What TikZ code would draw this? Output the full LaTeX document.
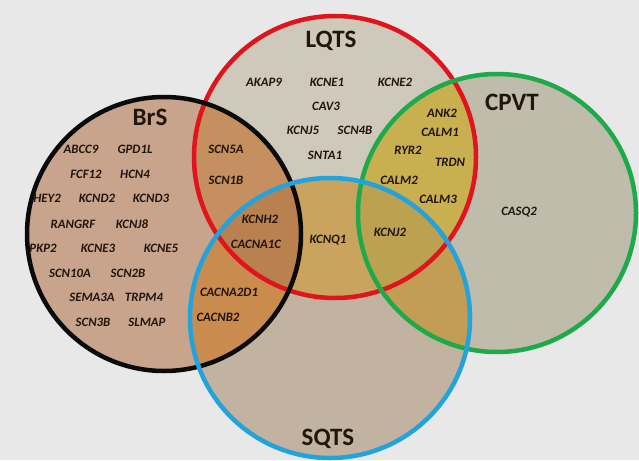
\documentclass[tikz,border=0pt]{standalone}
\usepackage{fontspec}
\setmainfont{Carlito}
\definecolor{bg}{HTML}{E8E8E8}
\definecolor{cB}{HTML}{C8A48D}
\definecolor{cL}{HTML}{CEC9BB}
\definecolor{cC}{HTML}{BFBCAC}
\definecolor{cS}{HTML}{C1B39F}
\definecolor{cBL}{HTML}{C58F5F}
\definecolor{cBS}{HTML}{CA8B4F}
\definecolor{cBLS}{HTML}{B98050}
\definecolor{cLS}{HTML}{CAA45E}
\definecolor{cLC}{HTML}{C8AF50}
\definecolor{cCS}{HTML}{C29D53}
\definecolor{cLCS}{HTML}{BBA150}
\definecolor{txt}{HTML}{22150C}
\definecolor{lB}{HTML}{0A0A0A}
\definecolor{lL}{HTML}{E0141C}
\definecolor{lC}{HTML}{1EAA4A}
\definecolor{lS}{HTML}{22A3DC}
\begin{document}
\begin{tikzpicture}[x=1pt,y=-1pt,
  gene/.style={font=\fontsize{12.8}{13}\selectfont\bfseries\itshape, text=txt, inner sep=0pt},
  ttl/.style={font=\fontsize{25}{25}\selectfont\bfseries, text=txt, inner sep=0pt},
  ring/.style={line width=4.5pt}]
\useasboundingbox (0,0) rectangle (639,460);
\fill[bg] (0,0) rectangle (639,460);
\coordinate (B) at (164,234);
\coordinate (L) at (335,157);
\coordinate (C) at (497,213);
\coordinate (S) at (330,318);
\def\rB{137pt}\def\rL{141pt}\def\rC{139pt}\def\rS{140pt}
% base fills
\fill[cB] (B) circle[radius=\rB];
\fill[cL] (L) circle[radius=\rL];
\fill[cC] (C) circle[radius=\rC];
\fill[cS] (S) circle[radius=\rS];
% pairs
\begin{scope}\clip (B) circle[radius=\rB]; \fill[cBL] (L) circle[radius=\rL];\end{scope}
\begin{scope}\clip (B) circle[radius=\rB]; \fill[cBS] (S) circle[radius=\rS];\end{scope}
\begin{scope}\clip (L) circle[radius=\rL]; \fill[cLS] (S) circle[radius=\rS];\end{scope}
\begin{scope}\clip (L) circle[radius=\rL]; \fill[cLC] (C) circle[radius=\rC];\end{scope}
\begin{scope}\clip (C) circle[radius=\rC]; \fill[cCS] (S) circle[radius=\rS];\end{scope}
% triples
\begin{scope}\clip (B) circle[radius=\rB]; \clip (L) circle[radius=\rL]; \fill[cBLS] (S) circle[radius=\rS];\end{scope}
\begin{scope}\clip (L) circle[radius=\rL]; \clip (C) circle[radius=\rC]; \fill[cLCS] (S) circle[radius=\rS];\end{scope}
% rings
\draw[ring,lL] (L) circle[radius=\rL];
\draw[ring,lB] (B) circle[radius=\rB];
\draw[ring,lC] (C) circle[radius=\rC];
\draw[ring,lS] (S) circle[radius=\rS];
% titles
\node[ttl] (tL) at (331,41) {LQTS};
\node[ttl] (tB) at (150,117) {BrS};
\node[ttl] (tC) at (512,102) {CPVT};
\node[ttl] (tS) at (328,439) {SQTS};
% BrS genes
\node[gene] (g1) at (81,149) {ABCC9};
\node[gene] (g2) at (135,149) {GPD1L};
\node[gene] (g3) at (86,174) {FCF12};
\node[gene] (g4) at (135,174) {HCN4};
\node[gene] (g5) at (47,198) {HEY2};
\node[gene] (g6) at (97,198) {KCND2};
\node[gene] (g7) at (151,198) {KCND3};
\node[gene] (g8) at (73,224) {RANGRF};
\node[gene] (g9) at (132,224) {KCNJ8};
\node[gene] (g10) at (43,248) {PKP2};
\node[gene] (g11) at (98,248) {KCNE3};
\node[gene] (g12) at (161,248) {KCNE5};
\node[gene] (g13) at (70,273) {SCN10A};
\node[gene] (g14) at (128,273) {SCN2B};
\node[gene] (g15) at (92,297) {SEMA3A};
\node[gene] (g16) at (144,297) {TRPM4};
\node[gene] (g17) at (93,322) {SCN3B};
\node[gene] (g18) at (147,322) {SLMAP};
% BrS & LQTS
\node[gene] (g19) at (226,149) {SCN5A};
\node[gene] (g20) at (226,180) {SCN1B};
% LQTS
\node[gene] (g21) at (264,82) {AKAP9};
\node[gene] (g22) at (327,82) {KCNE1};
\node[gene] (g23) at (395,82) {KCNE2};
\node[gene] (g24) at (326,106) {CAV3};
\node[gene] (g25) at (303,130) {KCNJ5};
\node[gene] (g26) at (355,130) {SCN4B};
\node[gene] (g27) at (325,155) {SNTA1};
% LQTS & CPVT
\node[gene] (g28) at (442,113) {ANK2};
\node[gene] (g29) at (440,132) {CALM1};
\node[gene] (g30) at (408,150) {RYR2};
\node[gene] (g31) at (450,162) {TRDN};
\node[gene] (g32) at (399,180) {CALM2};
\node[gene] (g33) at (438,199) {CALM3};
% triple / pairs
\node[gene] (g34) at (260,219) {KCNH2};
\node[gene] (g35) at (256,244) {CACNA1C};
\node[gene] (g36) at (328,240) {KCNQ1};
\node[gene] (g37) at (390,232) {KCNJ2};
\node[gene] (g38) at (229,292) {CACNA2D1};
\node[gene] (g39) at (218,317) {CACNB2};
% CPVT
\node[gene] (g40) at (519,212) {CASQ2};
\end{tikzpicture}
\end{document}
